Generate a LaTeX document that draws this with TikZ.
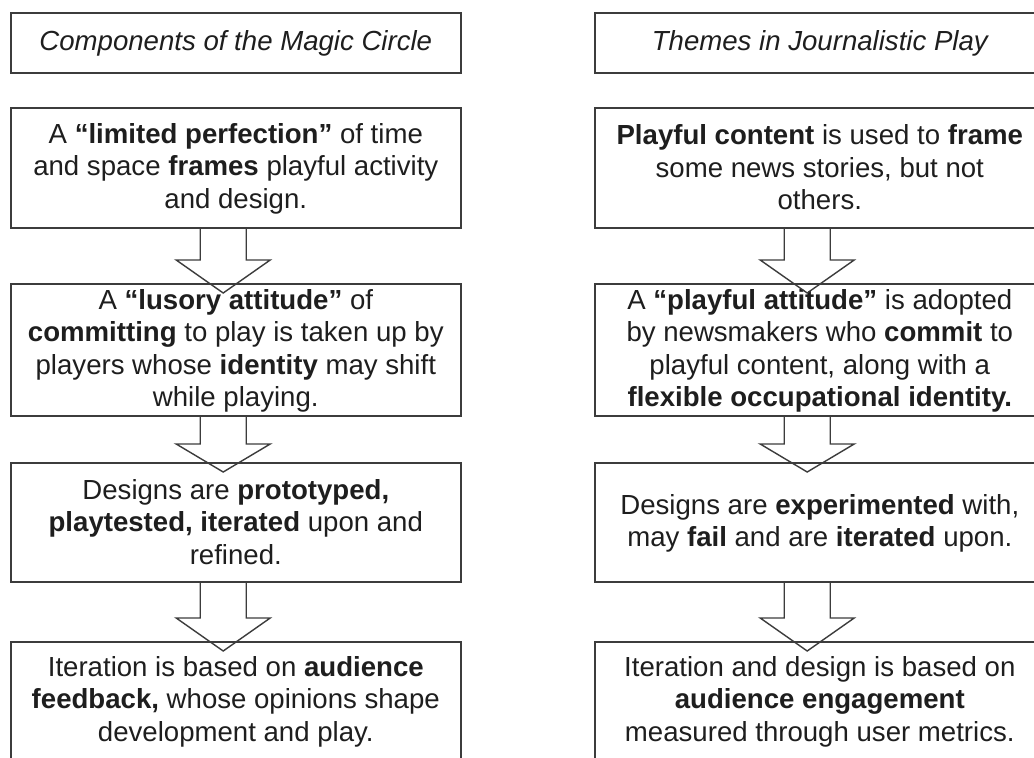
\documentclass[tikz,border=0pt]{standalone}
\usepackage{fontspec}
\setmainfont{Liberation Sans}
\usetikzlibrary{calc}
\definecolor{edge}{HTML}{3C3C3C}
\definecolor{ink}{HTML}{1E1E1E}

% invisible strut that fixes the height of first and last lines
\newcommand\lstrut{\rule[-3pt]{0pt}{25pt}}

% block arrow from the bottom of box #1 to the top of box #2, head height #3
\newcommand\flowarrow[3]{%
  \draw[arrowline] let \p1=(#1.south west), \p2=(#2.north west) in
    (\x1+190.2pt,\y1) -- (\x1+190.2pt,\y2-10pt+#3pt)
    -- (\x1+166.2pt,\y2-10pt+#3pt) -- (\x1+213.2pt,\y2-10pt)
    -- (\x1+260.2pt,\y2-10pt+#3pt) -- (\x1+236.2pt,\y2-10pt+#3pt)
    -- (\x1+236.2pt,\y1);}

\begin{document}
\begin{tikzpicture}[x=1pt,y=-1pt,
  box/.style={draw=edge, line width=1.6pt, anchor=north west,
    minimum width=450pt, inner sep=0pt, align=center, text=ink,
    font=\fontsize{27.6}{32.5}\selectfont},
  heading/.style={box, font=\fontsize{27.6}{32.5}\selectfont\itshape},
  arrowline/.style={draw=edge, line width=1.4pt, line join=miter}]
\useasboundingbox (0,0) rectangle (1034,758);
\clip (0,0) rectangle (1034,758);
\fill[white] (0,0) rectangle (1034,758);

% left column: components of the magic circle
\node[heading, minimum height=60pt] (lt) at (10,12) {\lstrut Components of the Magic Circle};
\node[box, minimum height=120pt] (l1) at (10,107)
  {\lstrut A \textbf{“limited perfection”} of time\\and space \textbf{frames} playful activity\\and design.\lstrut};
\node[box, minimum height=132pt] (l2) at (10,283)
  {\lstrut A \textbf{“lusory attitude”} of\\\textbf{committing} to play is taken up by\\players whose \textbf{identity} may shift\\while playing.\lstrut};
\node[box, minimum height=119pt] (l3) at (10,462)
  {\lstrut Designs are \textbf{prototyped,}\\\textbf{playtested, iterated} upon and\\refined.\lstrut};
\node[box, minimum height=118pt] (l4) at (10,641)
  {\lstrut Iteration is based on \textbf{audience}\\\textbf{feedback,} whose opinions shape\\development and play.\lstrut};

% right column: themes in journalistic play
\node[heading, minimum height=60pt] (rt) at (594,12) {\lstrut Themes in Journalistic Play};
\node[box, minimum height=120pt] (r1) at (594,107)
  {\lstrut\textbf{Playful content} is used to \textbf{frame}\\some news stories, but not\\others.\lstrut};
\node[box, minimum height=132pt] (r2) at (594,283)
  {\lstrut A \textbf{“playful attitude”} is adopted\\by newsmakers who \textbf{commit} to\\playful content, along with a\\\textbf{flexible occupational identity.}\lstrut};
\node[box, minimum height=119pt] (r3) at (594,462)
  {\lstrut Designs are \textbf{experimented} with,\\may \textbf{fail} and are \textbf{iterated} upon.\lstrut};
\node[box, minimum height=118pt] (r4) at (594,641)
  {\lstrut Iteration and design is based on\\\textbf{audience engagement}\\measured through user metrics.\lstrut};

% hollow block arrows between consecutive boxes
\flowarrow{l1}{l2}{33}
\flowarrow{l2}{l3}{28}
\flowarrow{l3}{l4}{33}
\flowarrow{r1}{r2}{33}
\flowarrow{r2}{r3}{28}
\flowarrow{r3}{r4}{33}
\end{tikzpicture}
\end{document}
